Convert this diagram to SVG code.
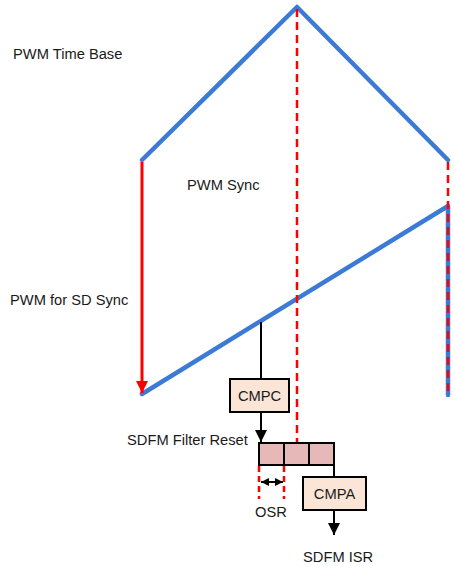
<svg xmlns="http://www.w3.org/2000/svg" width="454" height="567" viewBox="0 0 454 567">
<defs>
<style>
.lbl{font-family:"Liberation Sans",Arial,sans-serif;font-size:14.7px;fill:#1a1a1a}
.blue{stroke:#3b7bd6;stroke-width:4.5;fill:none;stroke-linecap:round;stroke-linejoin:round}
.rdash{stroke:#ff0000;stroke-width:2.5;fill:none;stroke-dasharray:8,5}
.blk{stroke:#000;stroke-width:2;fill:none}
.box{fill:#fbe5d6;stroke:#000;stroke-width:2}
.cell{fill:#e6b9b8;stroke:#000;stroke-width:2}
</style>
<marker id="ahb" viewBox="0 0 10 10" refX="10" refY="5" markerWidth="12" markerHeight="12" markerUnits="userSpaceOnUse" orient="auto-start-reverse">
<path d="M0,0L10,5L0,10z" fill="#000"/>
</marker>
<marker id="ahs" viewBox="0 0 10 10" refX="10" refY="5" markerWidth="8" markerHeight="8" markerUnits="userSpaceOnUse" orient="auto-start-reverse">
<path d="M0,0L10,5L0,10z" fill="#000"/>
</marker>
<marker id="ahr" viewBox="0 0 10 10" refX="10" refY="5" markerWidth="12" markerHeight="12" markerUnits="userSpaceOnUse" orient="auto">
<path d="M0,0L10,5L0,10z" fill="#ff0000"/>
</marker>
</defs>
<rect width="454" height="567" fill="#fff"/>
<g id="labels">
<text class="lbl" x="13" y="59">PWM Time Base</text>
<text class="lbl" x="187" y="190">PWM Sync</text>
<text class="lbl" x="10" y="305">PWM for SD Sync</text>
<text class="lbl" x="127" y="445">SDFM Filter Reset</text>
<text class="lbl" x="255" y="517">OSR</text>
<text class="lbl" x="303" y="562">SDFM ISR</text>
</g>
<g id="time-base">
<polyline class="blue" points="142,160 297,7 448,160"/>
</g>
<g id="sd-sync-ramp">
<polyline class="blue" points="142,394 448,206 448,395"/>
</g>
<g id="connectors">
<line x1="142" y1="162" x2="142" y2="393" stroke="#ff0000" stroke-width="3" marker-end="url(#ahr)"/>
<line class="rdash" x1="297" y1="9" x2="297" y2="443"/>
<line class="rdash" x1="448" y1="162" x2="448" y2="395"/>
<line class="blk" x1="261" y1="322" x2="261" y2="379"/>
<line class="blk" x1="261" y1="412" x2="261" y2="442" marker-end="url(#ahb)"/>
<line class="blk" x1="334" y1="465" x2="334" y2="477"/>
<line class="blk" x1="334" y1="510" x2="334" y2="535" marker-end="url(#ahb)"/>
<line class="rdash" x1="259" y1="466" x2="259" y2="499" style="stroke-dasharray:6,4"/>
<line class="rdash" x1="284" y1="466" x2="284" y2="499" style="stroke-dasharray:6,4"/>
<line x1="261" y1="482" x2="283" y2="482" stroke="#000" stroke-width="2" marker-start="url(#ahs)" marker-end="url(#ahs)"/>
</g>
<g id="cmpc">
<rect class="box" x="230" y="379" width="59" height="33"/>
<text class="lbl" x="259.5" y="401" text-anchor="middle">CMPC</text>
</g>
<g id="filter-reset">
<rect class="cell" x="259" y="443" width="25" height="22"/>
<rect class="cell" x="284" y="443" width="25" height="22"/>
<rect class="cell" x="309" y="443" width="25" height="22"/>
</g>
<g id="cmpa">
<rect class="box" x="303" y="477" width="63" height="33"/>
<text class="lbl" x="334.5" y="499" text-anchor="middle">CMPA</text>
</g>
</svg>
